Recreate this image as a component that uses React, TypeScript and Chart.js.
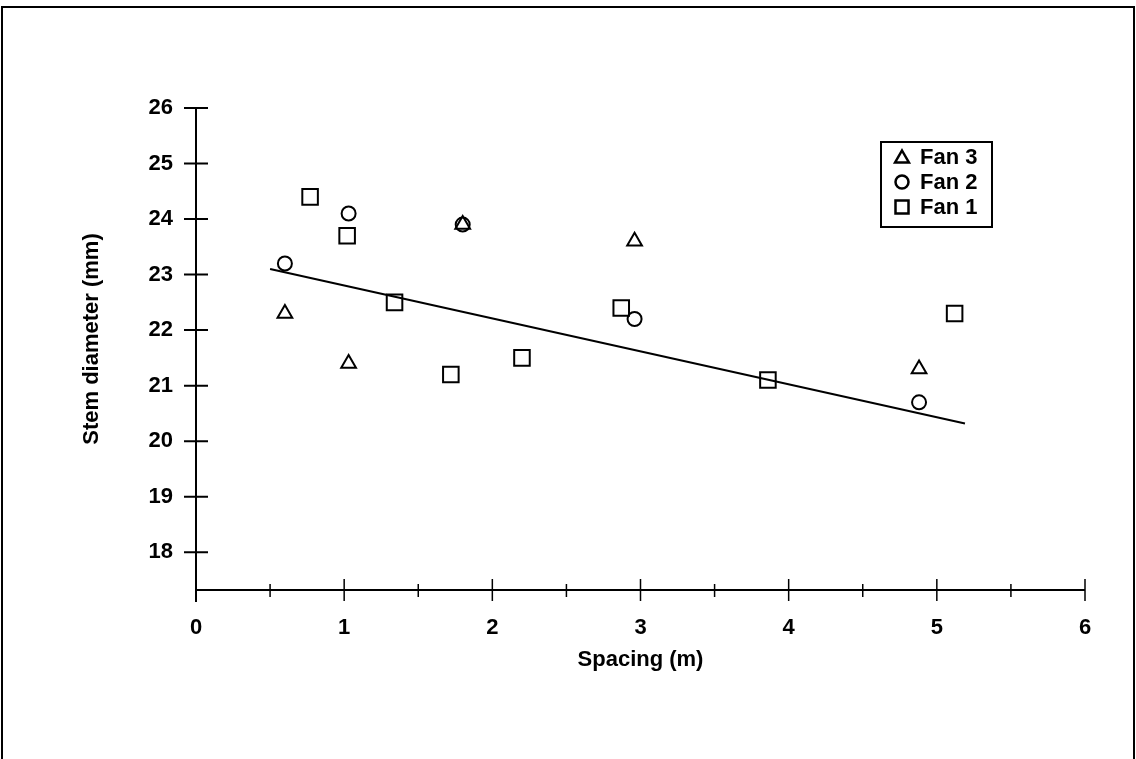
import React, { useEffect, useRef } from "react";
import { Chart, registerables } from "chart.js";

Chart.register(...registerables);

// ---- data ----
const FAN3_X = [0.6, 1.03, 1.8, 2.96, 4.88];
const FAN3_Y = [22.3, 21.4, 23.9, 23.6, 21.3];
const FAN2_X = [0.6, 1.03, 1.8, 2.96, 4.88];
const FAN2_Y = [23.2, 24.1, 23.9, 22.2, 20.7];
const FAN1_X = [0.77, 1.02, 1.34, 1.72, 2.2, 2.87, 3.86, 5.12];
const FAN1_Y = [24.4, 23.7, 22.5, 21.2, 21.5, 22.4, 21.1, 22.3];
const TREND_X = [0.5, 5.19];
const TREND_Y = [23.1, 20.32];

const X_TICKS = [0, 1, 2, 3, 4, 5, 6];
const X_MINOR_TICKS = [0.5, 1.5, 2.5, 3.5, 4.5, 5.5];
const Y_TICKS = [18, 19, 20, 21, 22, 23, 24, 25, 26];
const X_MIN = 0;
const X_MAX = 6;
const Y_MIN = 17.32;
const Y_MAX = 26;

const LEGEND_LABELS = ["Fan 3", "Fan 2", "Fan 1"];
const LEGEND_STYLES = ["triangle", "circle", "rect"];

const X_TITLE = "Spacing (m)";
const Y_TITLE = "Stem diameter (mm)";

const FONT = "'Liberation Sans', Arial, Helvetica, sans-serif";

const toPts = (xs: number[], ys: number[]) => xs.map((x, i) => ({ x, y: ys[i] }));

function drawSymbol(ctx: CanvasRenderingContext2D, style: string, x: number, y: number, r: number) {
  ctx.beginPath();
  if (style === "triangle") {
    ctx.moveTo(x, y - r);
    ctx.lineTo(x + r * 0.866, y + r * 0.5);
    ctx.lineTo(x - r * 0.866, y + r * 0.5);
    ctx.closePath();
  } else if (style === "circle") {
    ctx.arc(x, y, r, 0, Math.PI * 2);
  } else {
    ctx.rect(x - r, y - r, 2 * r, 2 * r);
  }
  ctx.stroke();
}

const decorPlugin = {
  id: "decor",
  beforeDraw(chart: any) {
    const ctx = chart.ctx as CanvasRenderingContext2D;
    ctx.save();
    ctx.fillStyle = "#ffffff";
    ctx.fillRect(0, 0, chart.width, chart.height);
    // outer frame
    ctx.strokeStyle = "#000";
    ctx.lineWidth = 2;
    ctx.strokeRect(2, 7, chart.width - 4, chart.height + 10);
    ctx.restore();
  },
  afterDraw(chart: any) {
    const ctx = chart.ctx as CanvasRenderingContext2D;
    const xs = chart.scales.x;
    const ys = chart.scales.y;
    const x0 = xs.getPixelForValue(X_MIN);
    const x6 = xs.getPixelForValue(X_MAX);
    const yBase = ys.getPixelForValue(Y_MIN);
    const yTop = ys.getPixelForValue(Y_MAX);
    ctx.save();
    ctx.strokeStyle = "#000";
    ctx.lineWidth = 2;
    ctx.lineCap = "butt";
    // axis lines
    ctx.beginPath();
    ctx.moveTo(x0, yTop);
    ctx.lineTo(x0, yBase + 12);
    ctx.moveTo(x0, yBase);
    ctx.lineTo(x6, yBase);
    ctx.stroke();
    // y ticks crossing the axis
    ctx.beginPath();
    Y_TICKS.forEach((v) => {
      const py = ys.getPixelForValue(v);
      ctx.moveTo(x0 - 12, py);
      ctx.lineTo(x0 + 12, py);
    });
    ctx.stroke();
    // x ticks
    ctx.lineWidth = 1.5;
    ctx.beginPath();
    X_TICKS.forEach((v) => {
      if (v === X_MIN) return;
      const px = xs.getPixelForValue(v);
      ctx.moveTo(px, yBase - 11);
      ctx.lineTo(px, yBase + 11);
    });
    X_MINOR_TICKS.forEach((v) => {
      const px = xs.getPixelForValue(v);
      ctx.moveTo(px, yBase - 6);
      ctx.lineTo(px, yBase + 7);
    });
    ctx.stroke();

    // y axis title
    ctx.fillStyle = "#000";
    ctx.font = `bold 22px ${FONT}`;
    ctx.textAlign = "center";
    ctx.textBaseline = "middle";
    ctx.save();
    ctx.translate(92, 339);
    ctx.rotate(-Math.PI / 2);
    ctx.fillText(Y_TITLE, 0, 0);
    ctx.restore();

    // legend box
    ctx.lineWidth = 2;
    ctx.strokeRect(881, 142, 111, 85);
    ctx.font = `bold 22px ${FONT}`;
    ctx.textBaseline = "middle";
    ctx.textAlign = "left";
    LEGEND_LABELS.forEach((lab, i) => {
      const cy = 157 + i * 25;
      ctx.lineWidth = 2.5;
      const st = LEGEND_STYLES[i];
      const r = st === "triangle" ? 8 : st === "circle" ? 6.5 : 6.5;
      drawSymbol(ctx, st, 902, cy + (st === "triangle" ? 1.5 : 0), r);
      ctx.fillText(lab, 920, cy + 1);
    });
    ctx.restore();
  },
};

export default function App() {
  const ref = useRef<HTMLCanvasElement | null>(null);
  useEffect(() => {
    if (!ref.current) return;
    const common = {
      showLine: false,
      borderColor: "#000",
      backgroundColor: "rgba(0,0,0,0)",
      pointBorderColor: "#000",
      pointBackgroundColor: "rgba(0,0,0,0)",
      pointBorderWidth: 2,
    };
    const chart = new Chart(ref.current, {
      type: "scatter",
      data: {
        datasets: [
          { ...common, label: "Fan 3", data: toPts(FAN3_X, FAN3_Y), pointStyle: "triangle", pointRadius: 8.5 },
          { ...common, label: "Fan 2", data: toPts(FAN2_X, FAN2_Y), pointStyle: "circle", pointRadius: 7 },
          { ...common, label: "Fan 1", data: toPts(FAN1_X, FAN1_Y), pointStyle: "rect", pointRadius: 11 },
          {
            type: "line" as any,
            label: "Trend",
            data: toPts(TREND_X, TREND_Y),
            showLine: true,
            borderColor: "#000",
            borderWidth: 2,
            pointRadius: 0,
            fill: false,
          },
        ],
      },
      options: {
        responsive: false,
        animation: false,
        events: [],
        layout: { padding: { top: 108, right: 51, bottom: 0, left: 0 } },
        plugins: { legend: { display: false }, tooltip: { enabled: false }, title: { display: false } },
        scales: {
          x: {
            type: "linear",
            min: X_MIN,
            max: X_MAX,
            grid: { display: false, drawTicks: false },
            border: { display: false },
            afterBuildTicks: (s: any) => {
              s.ticks = X_TICKS.map((v) => ({ value: v }));
            },
            afterFit: (s: any) => {
              s.height = 169;
            },
            ticks: {
              color: "#000",
              padding: 25,
              maxRotation: 0,
              font: { family: FONT, size: 22, weight: "bold" },
              callback: (v: any) => String(v),
            },
            title: {
              display: true,
              text: X_TITLE,
              color: "#000",
              font: { family: FONT, size: 22, weight: "bold" },
              padding: { top: 0, bottom: 86 },
            },
          },
          y: {
            type: "linear",
            min: Y_MIN,
            max: Y_MAX,
            grid: { display: false, drawTicks: false },
            border: { display: false },
            afterBuildTicks: (s: any) => {
              s.ticks = Y_TICKS.map((v) => ({ value: v }));
            },
            afterFit: (s: any) => {
              s.width = 196;
            },
            ticks: {
              color: "#000",
              padding: 23,
              font: { family: FONT, size: 22, weight: "bold" },
              callback: (v: any) => String(v),
            },
            title: { display: false },
          },
        },
      },
      plugins: [decorPlugin],
    } as any);
    return () => chart.destroy();
  }, []);
  return (
    <div style={{ position: "absolute", left: 0, top: 0, width: 1136, height: 759, background: "#fff" }}>
      <canvas ref={ref} width={1136} height={759} style={{ display: "block" }} aria-label={`${Y_TITLE} vs ${X_TITLE}`} />
    </div>
  );
}
